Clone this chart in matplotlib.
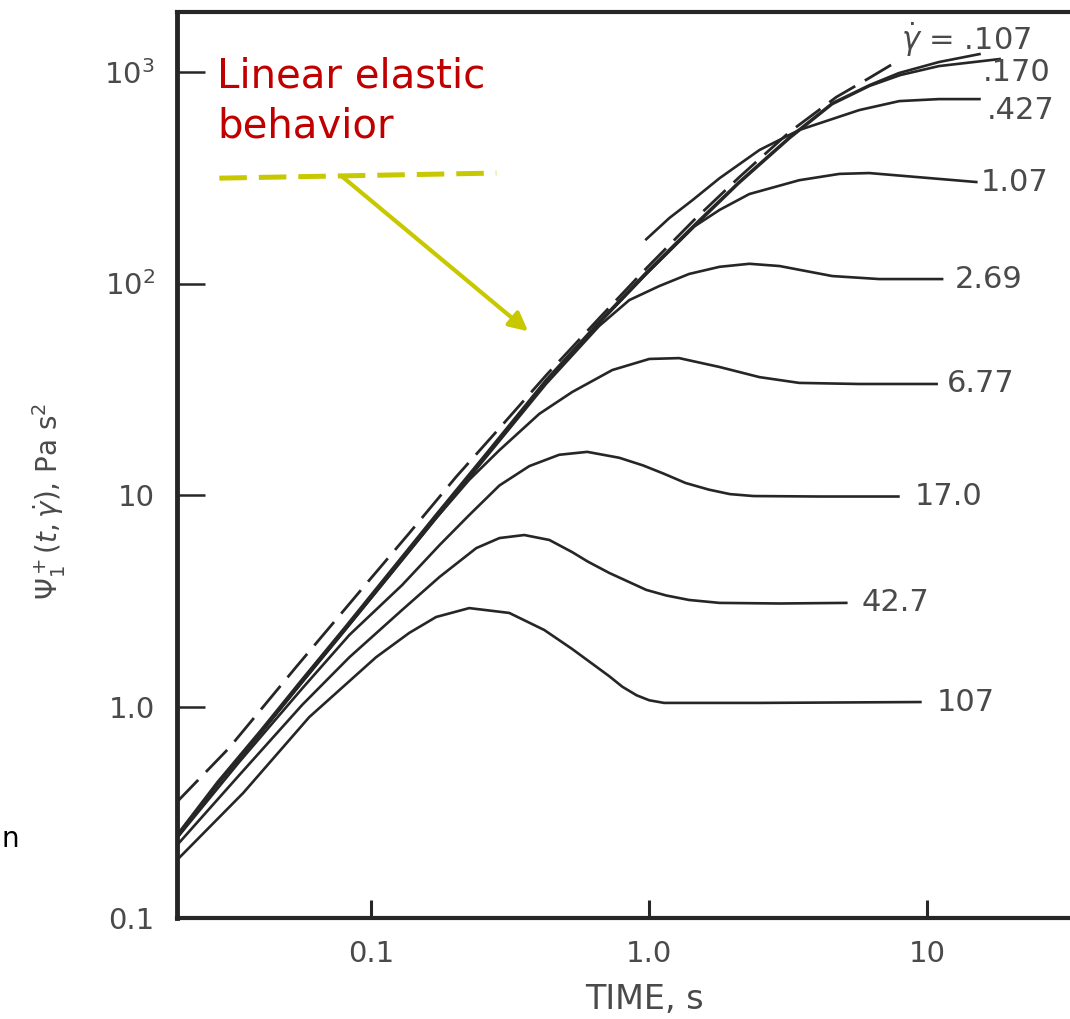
import matplotlib
matplotlib.use('Agg')
import matplotlib.pyplot as plt
from matplotlib.ticker import NullLocator

# time (s) and first normal stress growth coefficient (Pa s^2)
t_lve = [0.02, 0.0308, 0.0537, 0.0984, 0.137, 0.202, 0.289, 0.426, 0.661, 0.975, 1.45, 2.11, 3.19, 4.71, 6.18, 7.93]
psi_lve = [0.354, 0.637, 1.54, 3.96, 6.61, 12.2, 20.7, 36.9, 68.7, 118, 200, 319, 520, 762, 937, 1140]

t_107 = [0.02, 0.028, 0.04, 0.056, 0.08, 0.116, 0.17, 0.265, 0.425, 0.66, 0.975, 1.45, 2.1, 3.2, 4.55, 6.2, 7.9, 11, 15.4]
psi_107 = [0.247, 0.44, 0.77, 1.33, 2.35, 4.3, 8.0, 16.3, 35, 66, 113, 189, 302, 493, 713, 868, 989, 1115, 1216]

t_170 = [0.02, 0.028, 0.04, 0.056, 0.08, 0.116, 0.17, 0.265, 0.425, 0.66, 0.975, 1.45, 2.1, 3.2, 4.55, 6.2, 8.0, 11, 18.2]
psi_170 = [0.243, 0.433, 0.76, 1.31, 2.31, 4.23, 7.9, 16.0, 34.4, 65, 111, 186, 298, 487, 705, 860, 968, 1067, 1152]

t_427 = [0.975, 1.18, 1.43, 1.79, 2.49, 3.46, 5.69, 7.93, 11.0, 15.4]
psi_427 = [162, 204, 248, 315, 428, 532, 661, 729, 745, 745]

t_1p07 = [0.02, 0.028, 0.04, 0.056, 0.08, 0.116, 0.17, 0.265, 0.425, 0.66, 0.975, 1.45, 1.79, 2.29, 3.46, 4.83, 6.18, 9.13, 15.0]
psi_1p07 = [0.24, 0.43, 0.75, 1.3, 2.3, 4.2, 7.8, 16.0, 34.3, 65, 111, 186, 223, 265, 308, 330, 333, 319, 302]

t_2p69 = [0.02, 0.028, 0.04, 0.056, 0.08, 0.116, 0.17, 0.265, 0.425, 0.66, 0.847, 1.086, 1.39, 1.79, 2.29, 2.94, 4.55, 6.72, 11.3]
psi_2p69 = [0.24, 0.43, 0.75, 1.29, 2.28, 4.15, 7.7, 15.7, 33.5, 63, 83.5, 97.3, 111, 120, 124, 121, 108.5, 105, 105]

t_6p77 = [0.02, 0.028, 0.04, 0.056, 0.08, 0.116, 0.17, 0.225, 0.289, 0.402, 0.528, 0.736, 1.0, 1.28, 1.79, 2.49, 3.46, 5.69, 10.8]
psi_6p77 = [0.24, 0.43, 0.75, 1.29, 2.28, 4.15, 7.7, 11.8, 16.3, 24.2, 30.7, 39.0, 44.0, 44.4, 40.3, 36.1, 33.9, 33.5, 33.5]

t_17 = [0.02, 0.0335, 0.0565, 0.0834, 0.129, 0.176, 0.225, 0.289, 0.370, 0.474, 0.598, 0.780, 0.95, 1.13, 1.35, 1.64, 1.95, 2.37, 4.09, 7.87]
psi_17 = [0.239, 0.547, 1.22, 2.18, 3.75, 5.80, 8.04, 11.1, 13.7, 15.5, 16.0, 15.0, 13.8, 12.6, 11.4, 10.6, 10.1, 9.89, 9.84, 9.84]

t_42 = [0.02, 0.0335, 0.0565, 0.0834, 0.129, 0.176, 0.2385, 0.289, 0.355, 0.437, 0.528, 0.6, 0.718, 0.975, 1.15, 1.39, 1.79, 2.94, 5.11]
psi_42 = [0.221, 0.474, 1.02, 1.71, 2.86, 4.10, 5.61, 6.26, 6.47, 6.13, 5.37, 4.85, 4.28, 3.56, 3.35, 3.19, 3.09, 3.07, 3.09]

t_107b = [0.02, 0.0346, 0.0598, 0.104, 0.137, 0.171, 0.225, 0.3135, 0.419, 0.528, 0.718, 0.8, 0.9, 1.0, 1.13, 2.49, 9.44]
psi_107b = [0.188, 0.390, 0.891, 1.71, 2.23, 2.65, 2.92, 2.77, 2.30, 1.87, 1.39, 1.24, 1.13, 1.07, 1.04, 1.04, 1.05]

curves = [(t_107, psi_107), (t_170, psi_170), (t_427, psi_427), (t_1p07, psi_1p07),
          (t_2p69, psi_2p69), (t_6p77, psi_6p77), (t_17, psi_17), (t_42, psi_42),
          (t_107b, psi_107b)]

rate_labels = [r'$\dot{\gamma}$ = .107', '.170', '.427', '1.07', '2.69', '6.77', '17.0', '42.7', '107']
label_t = [8.05, 15.8, 16.3, 15.6, 12.5, 11.8, 8.97, 5.79, 10.8]
label_psi = [1417, 995, 661, 299, 105, 33.5, 9.84, 3.09, 1.05]

x_ticks = [0.1, 1.0, 10]
x_ticklabels = ['0.1', '1.0', '10']
y_ticks = [0.1, 1.0, 10, 100, 1000]
y_ticklabels = ['0.1', '1.0', '10', '$10^2$', '$10^3$']

# overlay annotation (yellow dashed line + arrow)
note_line_t = [0.0284, 0.2815]
note_line_psi = [315, 333]
arrow_from = (0.0767, 329)
arrow_to = (0.373, 58.3)

ink = '#262626'
grey = '#4a4a4a'
yellow = '#C8C800'

fig = plt.figure(figsize=(10.70, 10.19), dpi=100)
ax = fig.add_axes([177 / 1070, 101 / 1019, 893 / 1070, 906 / 1019])
ax.set_xscale('log')
ax.set_yscale('log')
ax.set_xlim(0.02, 32.6)
ax.set_ylim(0.1, 1923)

ax.plot(t_lve, psi_lve, color=ink, lw=2.0, dashes=(11, 4))
for t, psi in curves:
    ax.plot(t, psi, color=ink, lw=1.9)

for lab, xt, yp in zip(rate_labels, label_t, label_psi):
    ax.text(xt, yp, lab, fontsize=22, color=grey, ha='left', va='center')

ax.set_xticks(x_ticks, x_ticklabels)
ax.set_yticks(y_ticks, y_ticklabels)
ax.xaxis.set_minor_locator(NullLocator())
ax.yaxis.set_minor_locator(NullLocator())
ax.tick_params(axis='y', direction='in', length=20, width=1.8, pad=16,
               labelsize=21, labelcolor=grey, color=ink)
ax.tick_params(axis='x', direction='in', length=13, width=2.2, pad=16,
               labelsize=21, labelcolor=grey, color=ink)

ax.spines['right'].set_visible(False)
ax.spines['left'].set_linewidth(3.5)
ax.spines['top'].set_linewidth(3)
ax.spines['bottom'].set_linewidth(3)
for s in ['left', 'top', 'bottom']:
    ax.spines[s].set_color(ink)

ax.set_xlabel('TIME, s', fontsize=24, color=grey)
ax.xaxis.set_label_coords(0.524, -0.072)
ax.set_ylabel(r'$\Psi_1^+(t,\dot{\gamma})$, Pa s$^2$', fontsize=20, color=grey)
ax.yaxis.set_label_coords(-0.122, 0.46)

# red note and its pointer
ax.text(0.0279, 849, 'Linear elastic', fontsize=29, color='#C00000', va='baseline')
ax.text(0.0279, 493, 'behavior', fontsize=29, color='#C00000', va='baseline')
ax.plot(note_line_t, note_line_psi, color=yellow, lw=3.6, dashes=(5.5, 2.4))
ax.annotate('', xy=arrow_to, xytext=arrow_from,
            arrowprops=dict(arrowstyle='-|>', color=yellow, lw=3, mutation_scale=28))

# letter from the slide at the left edge
fig.text(1 / 1070, 1 - 847 / 1019, 'n', fontsize=20, color='black', ha='left', va='baseline')

fig.savefig('out.png', dpi=100)
